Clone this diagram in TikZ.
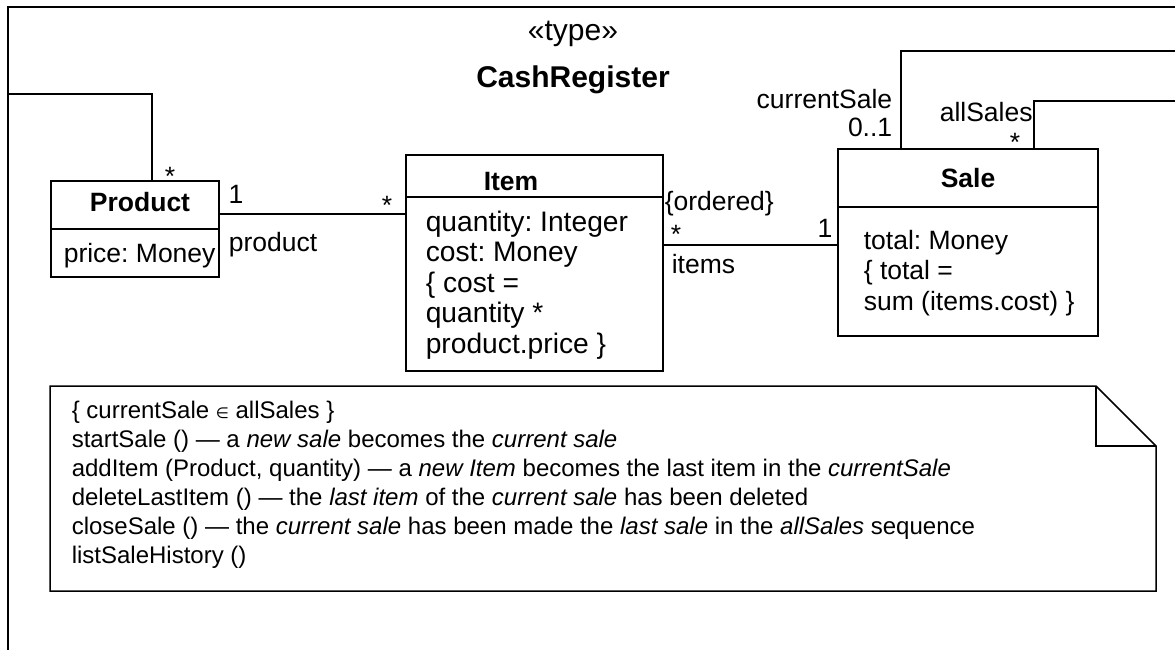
\documentclass[tikz,border=0pt]{standalone}
\usepackage{fontspec}
\setmainfont{Liberation Sans}
\newfontfamily\symfont{DejaVu Sans}
\frenchspacing
\begin{document}
\begin{tikzpicture}[x=1pt,y=-1pt,line width=1.6pt,
  box/.style={draw,line width=1.6pt,inner sep=0pt},
  body/.style={font=\fontsize{26.5}{30.5}\selectfont,inner sep=0pt,anchor=base west},
  itembody/.style={font=\fontsize{28.2}{30.5}\selectfont,inner sep=0pt,anchor=base west},
  bodyr/.style={font=\fontsize{26.5}{30.5}\selectfont,inner sep=0pt,anchor=base east},
  mult/.style={font=\fontsize{26.5}{30.5}\selectfont,inner sep=0pt,anchor=base},
  cname/.style={font=\fontsize{26.5}{30.5}\selectfont\bfseries,inner sep=0pt,anchor=base},
  ttl/.style={font=\fontsize{30}{34}\selectfont,inner sep=0pt,anchor=base},
  notetext/.style={font=\fontsize{24}{29}\selectfont,inner sep=0pt,anchor=base west},
]
\useasboundingbox (0,0) rectangle (1175,650);

% enclosing type frame (continues past the right and bottom edges)
\coordinate (frameTR) at (1175,7);
\coordinate (frameTL) at (8,7);
\coordinate (frameBL) at (8,650);
\draw[line width=2pt] (frameTR) -- (frameTL) -- (frameBL);

\node[ttl] (stereo) at (573,41) {«type»};
\node[ttl,font=\fontsize{30}{34}\selectfont\bfseries] (crname) at (573,88) {CashRegister};

% Product
\node[box,minimum width=168pt,minimum height=96pt] (product) at (135,229) {};
\draw (product.west) -- (product.east);
\node[cname] (productname) at (140,211) {Product};
\node[body] (productattr) at (63,262) {price: Money};

% Item
\node[box,minimum width=257pt,minimum height=216pt] (item) at (534.5,263) {};
\coordinate (itemsep) at (406,197);
\draw (itemsep) -- (itemsep -| item.east);
\node[cname] (itemname) at (511,190) {Item};
\node[itembody] (itemattr1) at (425,231) {quantity: Integer};
\node[itembody] (itemattr2) at (425,261.5) {cost: Money};
\node[itembody] (itemattr3) at (425,292) {\{ cost =};
\node[itembody] (itemattr4) at (425,322.5) {quantity *};
\node[itembody] (itemattr5) at (425,353) {product.price \}};

% Sale
\node[box,minimum width=260pt,minimum height=187pt] (sale) at (968,242.5) {};
\coordinate (salesep) at (838,207);
\draw (salesep) -- (salesep -| sale.east);
\node[cname] (salename) at (968,187) {Sale};
\node[body] (saleattr1) at (863,249) {total: Money};
\node[body] (saleattr2) at (863,279.5) {\{ total =};
\node[body] (saleattr3) at (863,310) {sum (items.cost) \}};

% associations
\draw ([yshift=15pt]product.east) -- ([yshift=15pt]product.east -| item.west);
\draw ([yshift=18pt]item.east) -- ([yshift=18pt]item.east -| sale.west);

\coordinate (prodloop) at (8,94);
\draw ([xshift=17pt]product.north) |- (prodloop);
\coordinate (curloop) at (1175,51);
\draw ([xshift=-67pt]sale.north) |- (curloop);
\coordinate (allloop) at (1175,101);
\draw ([xshift=66pt]sale.north) |- (allloop);

% association end labels
\node[mult] (m1) at (170,185) {*};
\node[mult] (m2) at (236,203) {1};
\node[body] (r1) at (228,251) {product};
\node[mult] (m3) at (387,214) {*};
\node[body] (c1) at (664,210) {\{ordered\}};
\node[mult] (m4) at (676,243) {*};
\node[mult] (m5) at (825,237) {1};
\node[body] (r2) at (671,273) {items};
\node[bodyr] (r3) at (893,109) {currentSale};
\node[bodyr] (m6) at (893,137) {0..1};
\node[body] (r4) at (939,122) {allSales};
\node[mult] (m7) at (1015,151) {*};

% note with folded corner
\coordinate (nTL) at (50,386);
\coordinate (nFold) at (1096,386);
\coordinate (nFoldIn) at (1096,446);
\coordinate (nR) at (1156,446);
\coordinate (nBR) at (1156,591);
\coordinate (nBL) at (50,591);
\draw[line width=1.5pt,line join=miter] (nTL) -- (nFold) -- (nR) -- (nBR) -- (nBL) -- cycle;
\draw[line width=1.5pt] (nFold) -- (nFoldIn) -- (nR);

\node[notetext] (n1) at (71,418) {\{ currentSale {\symfont\fontsize{15}{15}\selectfont ∈} allSales \}};
\node[notetext] (n2) at (71,447) {startSale () — a \textit{new sale} becomes the \textit{current sale}};
\node[notetext] (n3) at (71,476) {addItem (Product, quantity) — a \textit{new Item} becomes the last item in the \textit{currentSale}};
\node[notetext] (n4) at (71,505) {deleteLastItem () — the \textit{last item} of the \textit{current sale} has been deleted};
\node[notetext] (n5) at (71,534) {closeSale () — the \textit{current sale} has been made the \textit{last sale} in the \textit{allSales} sequence};
\node[notetext] (n6) at (71,563) {listSaleHistory ()};
\end{tikzpicture}
\end{document}
